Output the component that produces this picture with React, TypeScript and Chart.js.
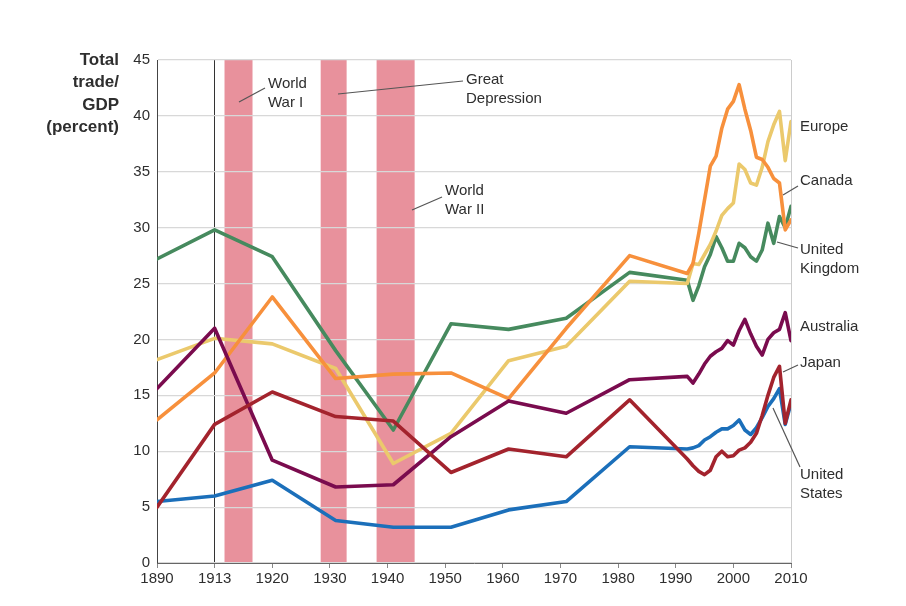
import React, { useEffect, useRef } from "react";
import { Chart, registerables } from "chart.js";

Chart.register(...registerables);

// ---------- data ----------
const tickYears = [1890, 1913, 1920, 1930, 1940, 1950, 1960, 1970, 1980, 1990, 2000, 2010];

const years = [
  1890, 1913, 1920, 1931, 1941, 1951, 1961, 1971, 1982, 1992,
  1993, 1994, 1995, 1996, 1997, 1998, 1999, 2000, 2001, 2002,
  2003, 2004, 2005, 2006, 2007, 2008, 2009, 2010,
];

const unitedKingdom = [
  27.2, 29.8, 27.4, 19.0, 11.9, 21.4, 20.9, 21.9, 26.0, 25.3,
  23.5, 24.8, 26.5, 27.6, 29.2, 28.2, 27.0, 27.0, 28.6, 28.2,
  27.4, 27.0, 28.0, 30.4, 28.6, 31.0, 30.0, 31.9,
];

const canada = [
  12.8, 17.0, 23.8, 16.5, 16.9, 17.0, 14.7, 21.0, 27.5, 25.9,
  26.8, 29.5, 32.5, 35.5, 36.4, 38.9, 40.6, 41.3, 42.8, 40.6,
  38.7, 36.3, 36.1, 35.4, 34.4, 34.0, 29.8, 30.7,
];

const europe = [
  18.2, 20.1, 19.6, 17.4, 8.9, 11.6, 18.1, 19.4, 25.2, 25.0,
  26.8, 26.7, 27.6, 28.5, 29.7, 31.1, 31.7, 32.2, 35.7, 35.2,
  34.0, 33.8, 35.4, 37.7, 39.2, 40.4, 36.0, 39.5,
];

const australia = [
  15.6, 21.0, 9.2, 6.8, 7.0, 11.3, 14.5, 13.4, 16.4, 16.7,
  16.1, 16.9, 17.8, 18.5, 18.9, 19.2, 19.9, 19.5, 20.8, 21.8,
  20.5, 19.4, 18.6, 20.0, 20.6, 20.9, 22.4, 19.9,
];

const japan = [
  5.0, 12.4, 15.3, 13.1, 12.7, 8.1, 10.2, 9.5, 14.6, 9.3,
  8.7, 8.2, 7.9, 8.3, 9.5, 10.0, 9.5, 9.6, 10.1, 10.3,
  10.8, 11.6, 13.2, 15.0, 16.6, 17.6, 12.5, 14.6,
];

const unitedStates = [
  5.5, 6.0, 7.4, 3.8, 3.2, 3.2, 4.75, 5.5, 10.4, 10.2,
  10.3, 10.5, 11.0, 11.3, 11.7, 12.0, 12.0, 12.3, 12.8, 11.9,
  11.5, 12.1, 13.0, 14.0, 14.7, 15.6, 12.4, 14.3,
];

// shaded periods (start year, end year)
const bandStarts = [1914.2, 1928.4, 1938.1];
const bandEnds = [1917.6, 1932.9, 1944.7];

const yTicks = [0, 5, 10, 15, 20, 25, 30, 35, 40, 45];

// ---------- helpers ----------
// the x axis puts its labelled years at equal spacing; map a year to that index space
function yearToPos(year: number): number {
  for (let i = 0; i < tickYears.length - 1; i++) {
    const a = tickYears[i];
    const b = tickYears[i + 1];
    if (year <= b) return i + (year - a) / (b - a);
  }
  return tickYears.length - 1;
}

const FONT = '"Liberation Sans", Arial, sans-serif';
const TEXT = "#2e2e2e";

const bandsPlugin = {
  id: "bands",
  beforeDraw(chart: any) {
    const { ctx, chartArea, scales } = chart;
    ctx.save();
    ctx.fillStyle = "#e8919c";
    for (let i = 0; i < bandStarts.length; i++) {
      const x1 = scales.x.getPixelForValue(yearToPos(bandStarts[i]));
      const x2 = scales.x.getPixelForValue(yearToPos(bandEnds[i]));
      ctx.fillRect(x1, chartArea.top, x2 - x1, chartArea.bottom - chartArea.top);
    }
    ctx.restore();
  },
};

const textPlugin = {
  id: "texts",
  afterDraw(chart: any) {
    const ctx = chart.ctx;
    ctx.save();
    // leader lines
    ctx.strokeStyle = "#555555";
    ctx.lineWidth = 1.2;
    const leaders = [
      [239, 102, 265, 88],
      [338, 94, 463, 81],
      [412, 210, 442, 197],
      [783, 195, 798, 186],
      [777, 242, 798, 248],
      [783, 372, 798, 365],
      [773, 408, 800, 467],
    ];
    for (const l of leaders) {
      ctx.beginPath();
      ctx.moveTo(l[0], l[1]);
      ctx.lineTo(l[2], l[3]);
      ctx.stroke();
    }
    // labels
    ctx.fillStyle = TEXT;
    ctx.font = "15px " + FONT;
    ctx.textAlign = "left";
    ctx.textBaseline = "middle";
    const labels: [string[], number, number][] = [
      [["World", "War I"], 268, 84],
      [["Great", "Depression"], 466, 80],
      [["World", "War II"], 445, 191],
      [["Europe"], 800, 127],
      [["Canada"], 800, 181],
      [["United", "Kingdom"], 800, 250],
      [["Australia"], 800, 327],
      [["Japan"], 800, 363],
      [["United", "States"], 800, 475],
    ];
    for (const [lines, x, y] of labels) {
      lines.forEach((s, i) => ctx.fillText(s, x, y + i * 19.3));
    }
    // axis title
    ctx.font = "bold 17px " + FONT;
    ctx.textAlign = "right";
    const title = ["Total", "trade/", "GDP", "(percent)"];
    title.forEach((s, i) => ctx.fillText(s, 119, 60 + i * 22.5));
    ctx.restore();
  },
};

export default function App() {
  const ref = useRef<HTMLCanvasElement | null>(null);

  useEffect(() => {
    if (!ref.current) return;
    const mk = (label: string, values: number[], color: string) => ({
      label,
      data: values.map((v, i) => ({ x: yearToPos(years[i]), y: v })),
      borderColor: color,
      backgroundColor: color,
      borderWidth: 3.6,
      pointRadius: 0,
      tension: 0,
      fill: false,
      borderJoinStyle: "round" as const,
      borderCapStyle: "round" as const,
    });

    const chart = new Chart(ref.current, {
      type: "line",
      data: {
        datasets: [
          mk("Japan", japan, "#a3232d"),
          mk("United States", unitedStates, "#1b6fba"),
          mk("Australia", australia, "#7a0b4e"),
          mk("Canada", canada, "#f7903c"),
          mk("Europe", europe, "#ebc96c"),
          mk("United Kingdom", unitedKingdom, "#468a5e"),
        ],
      },
      options: {
        animation: false,
        responsive: false,
        devicePixelRatio: 1,
        layout: { padding: { top: 60, right: 115, bottom: 0, left: 0 } },
        plugins: {
          legend: { display: false },
          tooltip: { enabled: false },
          title: { display: false },
        },
        scales: {
          x: {
            type: "linear",
            min: 0,
            max: tickYears.length - 1,
            afterFit: (s: any) => {
              s.height = 43;
            },
            afterBuildTicks: (s: any) => {
              s.ticks = tickYears.map((_, i) => ({ value: i }));
            },
            ticks: {
              autoSkip: false,
              maxRotation: 0,
              padding: 2,
              color: TEXT,
              font: { family: FONT, size: 15 },
              callback: (v: any) => String(tickYears[Number(v)] ?? ""),
            },
            grid: {
              display: true,
              drawOnChartArea: true,
              drawTicks: true,
              tickLength: 5,
              tickColor: "#888888",
              lineWidth: 1,
              color: (c: any) =>
                c.tick && c.tick.value === 1
                  ? "#333333"
                  : c.tick && c.tick.value === tickYears.length - 1
                  ? "#cccccc"
                  : "rgba(0,0,0,0)",
            },
            border: { display: true, color: "#666666", width: 1 },
          },
          y: {
            type: "linear",
            min: 0,
            max: 45,
            afterFit: (s: any) => {
              s.width = 157;
            },
            afterBuildTicks: (s: any) => {
              s.ticks = yTicks.map((v) => ({ value: v }));
            },
            ticks: {
              padding: 7,
              color: TEXT,
              font: { family: FONT, size: 15 },
            },
            grid: {
              color: "#d8d8d8",
              lineWidth: 1.2,
              drawTicks: false,
            },
            border: { display: true, color: "#444444", width: 1 },
          },
        },
      },
      plugins: [bandsPlugin, textPlugin],
    });
    return () => chart.destroy();
  }, []);

  return (
    <div style={{ position: "absolute", left: 0, top: 0, width: 906, height: 606, background: "#ffffff" }}>
      <canvas ref={ref} width={906} height={606} style={{ display: "block" }} />
    </div>
  );
}
